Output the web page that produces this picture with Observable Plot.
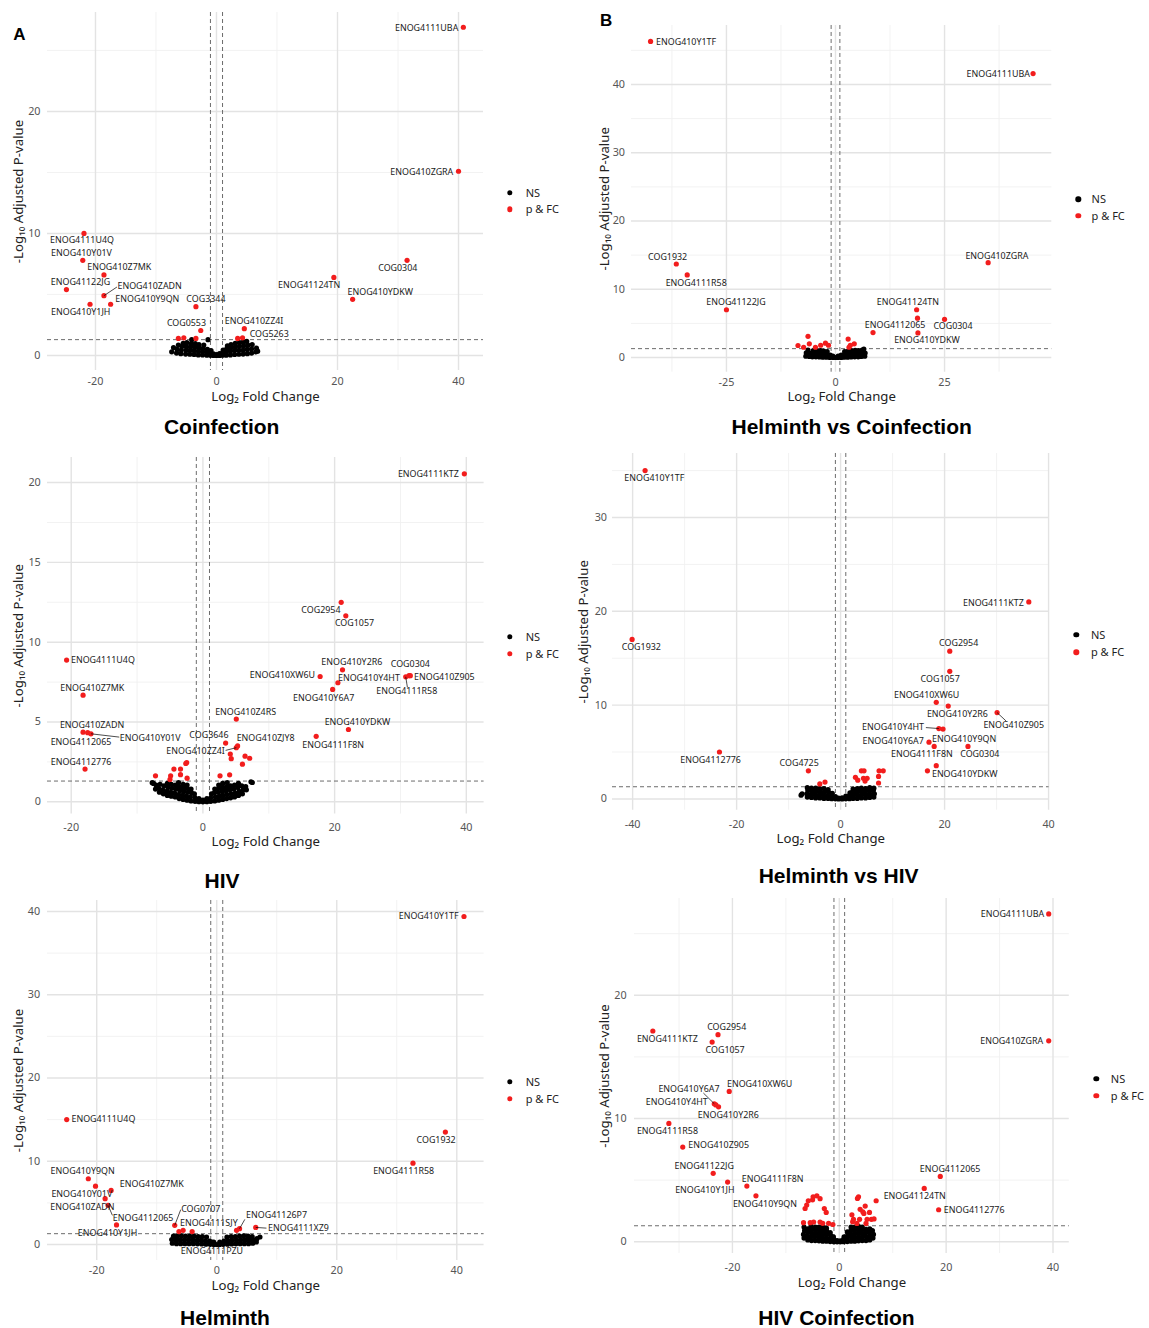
<!DOCTYPE html>
<html><head><meta charset="utf-8">
<script src="https://cdn.jsdelivr.net/npm/d3@7"></script>
<script src="https://cdn.jsdelivr.net/npm/@observablehq/plot@0.6"></script>
<style>
body{margin:0;background:#fff}
#root{position:relative;width:1149px;height:1328px;overflow:hidden;font-family:"Noto Sans",sans-serif}
#root svg{overflow:visible}
.ttl{position:absolute;font-family:"Liberation Sans",Arial,sans-serif;font-weight:bold;font-size:21px;line-height:1;white-space:nowrap;transform:translateX(-50%);color:#000}
.let{position:absolute;font-family:"Liberation Sans",Arial,sans-serif;font-weight:bold;font-size:17px;line-height:1;color:#000}
.ld{position:absolute;width:5.4px;height:5.4px;border-radius:50%;transform:translate(-50%,-50%)}
.lt{position:absolute;font-size:11px;line-height:1;color:#222;transform:translateY(-55%);white-space:nowrap}
</style></head>
<body><div id="root"></div>
<script>
// ---------------- DATA ----------------
const PTHRESH = 1.3;   // -log10(0.05)
const FC_LINES = [-1, 1];

// A: Coinfection
const coinf_names = ["ENOG4111UBA","ENOG410ZGRA","COG0304","ENOG41124TN","ENOG410YDKW","ENOG4111U4Q","ENOG410Y01V","ENOG410Z7MK","ENOG41122JG","ENOG410ZADN","ENOG410Y9QN","ENOG410Y1JH","COG3344","COG0553","ENOG410ZZ4I","COG5263"];
const coinf_x = [40.8,40.0,31.5,19.4,22.5,-21.9,-22.1,-18.6,-24.8,-18.6,-17.5,-20.9,-3.4,-2.6,4.6,4.3];
const coinf_y = [26.9,15.1,7.8,6.4,4.6,10.0,7.8,6.6,5.4,4.9,4.2,4.2,4.0,2.05,2.2,1.45];
const coinf_redX = [-6.3,-5.4,-3.4,3.5];
const coinf_redY = [1.4,1.45,1.4,1.4];
const coinf_ns = [[-7.4,0.3],[-7.1,0.65],[-6.6,0.2],[-6.5,0.5],[-6.3,0.85],[-5.9,0.15],[-5.8,0.45],[-5.7,0.75],[-5.5,1.0],[-5.1,0.12],[-5.0,0.42],[-5.0,0.72],[-4.9,1.05],[-4.4,0.1],[-4.4,0.4],[-4.3,0.7],[-4.2,0.95],[-4.1,1.3],[-3.7,0.08],[-3.7,0.38],[-3.6,0.68],[-3.5,0.98],[-3.0,0.05],[-3.0,0.35],[-2.9,0.62],[-2.9,0.9],[-2.3,0.04],[-2.3,0.3],[-2.2,0.58],[-2.1,0.85],[-1.6,0.02],[-1.6,0.25],[-1.5,0.5],[-1.4,1.3],[-1.0,0.01],[-1.0,0.2],[-0.9,0.4],[-0.5,0.0],[-0.5,0.14],[0,0],[0,0.07],[0.5,0.0],[0.5,0.15],[1.0,0.02],[1.0,0.22],[1.1,0.45],[1.6,0.03],[1.6,0.3],[1.7,0.55],[1.8,0.78],[2.3,0.05],[2.3,0.35],[2.4,0.65],[2.4,0.9],[3.0,0.08],[3.0,0.4],[3.1,0.7],[3.1,1.0],[3.7,0.1],[3.7,0.42],[3.8,0.75],[3.8,1.05],[4.4,0.12],[4.4,0.45],[4.5,0.8],[4.4,1.1],[5.1,0.15],[5.1,0.5],[5.2,0.85],[5.0,1.15],[5.8,0.2],[5.8,0.55],[5.9,0.9],[6.5,0.3],[6.6,0.6],[6.8,0.35]];
const coinf_xticks = [-20,0,20,40];
const coinf_yticks = [0,10,20];

// B: Helminth vs Coinfection
const hvc_names = ["ENOG410Y1TF","ENOG4111UBA","ENOG410ZGRA","COG1932","ENOG4111R58","ENOG41122JG","ENOG41124TN","ENOG4112065","COG0304","ENOG410YDKW"];
const hvc_x = [-42.4,45.3,35.0,-36.5,-34.0,-25.0,18.6,8.6,25.0,18.9];
const hvc_y = [46.3,41.6,13.9,13.7,12.1,7.0,7.0,3.66,5.6,3.6];
const hvc_redX = [18.8,-6.3,-8.6,-6.0,-7.3,-3.4,-2.3,-1.6,2.9,3.4,4.3,-4.6,3.1];
const hvc_redY = [5.76,3.1,1.76,2.0,1.5,1.8,2.1,1.8,2.7,1.8,2.0,1.5,1.5];
const hvc_ns = [[-6.8,0.2],[-6.7,0.7],[-6.3,1.1],[-6.0,0.15],[-5.9,0.6],[-5.3,0.1],[-5.2,0.55],[-5.1,1.0],[-4.5,0.1],[-4.4,0.55],[-4.3,1.05],[-3.7,0.08],[-3.6,0.5],[-3.5,1.0],[-2.9,0.05],[-2.8,0.45],[-2.7,0.95],[-2.1,0.04],[-2.0,0.4],[-1.9,0.85],[-1.3,0.02],[-1.2,0.35],[-0.6,0.0],[-0.6,0.2],[0,0],[0.6,0.0],[0.6,0.2],[1.3,0.02],[1.3,0.35],[2.0,0.04],[2.0,0.4],[2.1,0.85],[2.8,0.05],[2.8,0.45],[2.9,0.95],[3.6,0.08],[3.6,0.5],[3.7,1.0],[4.4,0.1],[4.4,0.55],[4.5,1.05],[5.2,0.1],[5.2,0.55],[5.3,1.0],[5.9,0.15],[6.0,0.6],[6.1,1.1],[6.7,0.2],[6.8,0.65],[6.5,1.25]];
const hvc_xticks = [-25,0,25];
const hvc_yticks = [0,10,20,30,40];

// HIV
const hiv_names = ["ENOG4111KTZ","COG2954","COG1057","ENOG4111U4Q","ENOG410Z7MK","ENOG410ZADN","ENOG4112065","ENOG410Y01V","ENOG4112776","ENOG410Z4RS","COG3646","ENOG410ZJY8","ENOG410ZZ4I","ENOG410XW6U","ENOG410Y2R6","ENOG410Y4HT","ENOG410Y6A7","COG0304","ENOG410Z905","ENOG4111R58","ENOG410YDKW","ENOG4111F8N"];
const hiv_x = [39.7,21.0,21.7,-20.7,-18.2,-18.2,-17.5,-17.0,-17.9,5.07,3.45,5.27,5.07,17.8,21.2,20.5,19.7,31.3,31.5,30.8,22.1,17.2];
const hiv_y = [20.55,12.5,11.65,8.88,6.68,4.36,4.33,4.26,2.05,5.18,3.68,3.5,3.39,7.85,8.27,7.46,7.04,7.9,7.9,7.83,4.53,4.1];
const hiv_redX = [4.16,4.3,6.4,7.1,6.0,-2.46,-2.6,-4.4,-3.4,-3.4,-7.2,-4.9,-5.0,-2.4,2.6,4.06];
const hiv_redY = [2.99,2.7,2.86,2.73,2.36,2.46,2.4,2.05,2.05,1.7,1.63,1.63,1.4,1.48,1.63,1.69];
const hiv_ns = [[-7.7,1.2],[-7.5,1.15],[-7.2,0.8],[-7.1,1.05],[-6.6,0.6],[-6.7,0.85],[-6.5,1.1],[-6.0,0.5],[-6.1,0.75],[-5.9,1.0],[-5.4,0.4],[-5.5,0.65],[-5.3,0.9],[-5.4,1.15],[-4.8,0.35],[-4.9,0.6],[-4.7,0.85],[-4.8,1.1],[-4.2,0.3],[-4.3,0.55],[-4.1,0.8],[-4.2,1.05],[-3.6,0.2],[-3.7,0.45],[-3.5,0.7],[-3.6,0.95],[-3.7,1.2],[-3.0,0.15],[-3.1,0.4],[-2.9,0.65],[-3.0,0.9],[-3.0,1.1],[-2.4,0.1],[-2.5,0.35],[-2.3,0.6],[-2.4,0.85],[-2.4,1.05],[-1.8,0.05],[-1.9,0.3],[-1.7,0.55],[-1.8,0.8],[-1.2,0.03],[-1.2,0.25],[-1.3,0.5],[-0.6,0.01],[-0.6,0.2],[0,0],[0,0.1],[0.6,0.01],[0.6,0.2],[1.2,0.03],[1.2,0.25],[1.3,0.5],[1.8,0.05],[1.9,0.3],[1.7,0.55],[1.8,0.8],[2.4,0.1],[2.5,0.35],[2.3,0.6],[2.4,0.85],[2.4,1.05],[3.0,0.15],[3.1,0.4],[2.9,0.65],[3.0,0.9],[3.0,1.15],[3.6,0.2],[3.7,0.45],[3.5,0.7],[3.6,0.95],[3.7,1.2],[4.2,0.25],[4.3,0.5],[4.1,0.75],[4.2,1.0],[4.8,0.3],[4.9,0.55],[4.7,0.8],[4.8,1.05],[5.4,0.4],[5.5,0.65],[5.3,0.9],[5.4,1.15],[6.0,0.5],[6.1,0.75],[5.9,1.0],[6.6,0.75],[6.5,0.95],[7.3,1.25],[7.5,1.21]];
const hiv_xticks = [-20,0,20,40];
const hiv_yticks = [0,5,10,15,20];

// Helminth vs HIV
const hvh_names = ["ENOG410Y1TF","COG1932","ENOG4112776","COG4725","ENOG4111KTZ","COG2954","COG1057","ENOG410XW6U","ENOG410Y2R6","ENOG410Z905","ENOG410Y4HT","ENOG410Y6A7","ENOG410Y9QN","ENOG4111F8N","COG0304","ENOG410YDKW"];
const hvh_x = [-37.6,-40.1,-23.3,-6.2,36.2,21.0,21.0,18.4,20.7,30.1,18.9,17.0,18.0,18.4,24.5,16.7];
const hvh_y = [35.0,17.0,5.0,3.0,21.0,15.75,13.6,10.3,9.9,9.2,7.5,6.05,5.6,3.55,5.6,3.0];
const hvh_redX = [19.7,4.0,4.5,7.4,8.2,2.85,7.3,3.3,4.4,5.1,4.7,7.3,-3.0,-4.0];
const hvh_redY = [7.45,3.0,3.0,3.0,3.0,2.3,2.4,2.0,2.2,2.2,1.9,1.7,1.8,1.6];
const hvh_ns = [[-7.6,0.4],[-7.4,0.55],[-6.4,0.2],[-6.5,0.55],[-6.3,0.9],[-6.4,1.2],[-5.6,0.15],[-5.7,0.5],[-5.5,0.85],[-5.6,1.15],[-4.8,0.1],[-4.9,0.45],[-4.7,0.8],[-4.8,1.15],[-4.0,0.1],[-4.1,0.4],[-3.9,0.75],[-4.0,1.1],[-3.2,0.05],[-3.3,0.4],[-3.1,0.75],[-3.2,1.1],[-2.4,0.05],[-2.5,0.35],[-2.3,0.7],[-2.4,1.0],[-1.7,0.02],[-1.7,0.3],[-1.6,0.6],[-1.0,0.01],[-1.0,0.25],[-0.4,0],[-0.4,0.1],[0.3,0],[0.3,0.12],[1.0,0.01],[1.0,0.3],[1.7,0.02],[1.7,0.35],[1.8,0.65],[2.4,0.05],[2.5,0.4],[2.3,0.75],[2.4,1.05],[3.2,0.05],[3.3,0.4],[3.1,0.75],[3.2,1.1],[4.0,0.1],[4.1,0.45],[3.9,0.8],[4.0,1.15],[4.8,0.1],[4.9,0.45],[4.7,0.8],[4.8,1.1],[5.6,0.15],[5.7,0.5],[5.5,0.85],[5.6,1.2],[6.4,0.2],[6.5,0.55],[6.3,0.9],[6.4,1.15]];
const hvh_xticks = [-40,-20,0,20,40];
const hvh_yticks = [0,10,20,30];

// Helminth
const helm_names = ["ENOG410Y1TF","ENOG4111U4Q","COG1932","ENOG4111R58","ENOG410Y9QN","ENOG410Y01V","ENOG410Z7MK","ENOG410ZADN","ENOG4112065","ENOG410Y1JH","COG0707","ENOG4111SJY","ENOG41126P7","ENOG4111XZ9"];
const helm_x = [41.2,-25.0,38.1,32.7,-21.4,-20.2,-17.6,-18.6,-18.1,-16.7,-7.0,-5.6,3.8,6.5];
const helm_y = [39.4,15.0,13.5,9.77,7.9,7.0,6.5,5.5,4.7,2.35,2.3,1.7,1.9,2.05];
const helm_redX = [-6.3,-4.1,3.3];
const helm_redY = [1.55,1.55,1.7];
const helm_nsNames = ["ENOG4111PZU"];
const helm_nsX = [-0.8];
const helm_nsY = [0.3];
const helm_ns = [[-7.4,0.15],[-7.5,0.6],[-7.2,1.0],[-6.7,0.1],[-6.8,0.55],[-6.6,1.0],[-6.0,0.1],[-6.1,0.55],[-5.9,1.05],[-5.3,0.1],[-5.4,0.55],[-5.2,1.0],[-4.6,0.1],[-4.7,0.55],[-4.5,1.0],[-3.9,0.1],[-4.0,0.55],[-3.8,1.0],[-3.2,0.08],[-3.3,0.5],[-3.1,0.95],[-2.5,0.06],[-2.6,0.5],[-2.4,0.95],[-1.8,0.04],[-1.9,0.45],[-1.7,0.9],[-1.1,0.02],[-1.2,0.4],[-0.5,0.0],[-0.5,0.3],[0,0],[0.5,0.0],[0.5,0.3],[1.1,0.02],[1.2,0.4],[1.8,0.04],[1.9,0.45],[1.7,0.9],[2.5,0.06],[2.6,0.5],[2.4,0.95],[3.2,0.08],[3.3,0.5],[3.1,0.95],[3.9,0.1],[4.0,0.55],[3.8,1.0],[4.6,0.1],[4.7,0.55],[4.5,1.05],[5.3,0.1],[5.4,0.55],[5.2,1.0],[6.0,0.15],[6.1,0.55],[5.9,0.95],[6.6,0.3],[6.7,0.7],[7.2,0.9]];
const helm_xticks = [-20,0,20,40];
const helm_yticks = [0,10,20,30,40];

// HIV Coinfection
const hivco_names = ["ENOG4111UBA","ENOG410ZGRA","ENOG4111KTZ","COG2954","COG1057","ENOG410XW6U","ENOG410Y6A7","ENOG410Y4HT","ENOG410Y2R6","ENOG4111R58","ENOG410Z905","ENOG41122JG","ENOG410Y1JH","ENOG4111F8N","ENOG410Y9QN","ENOG4112065","ENOG41124TN","ENOG4112776"];
const hivco_x = [39.2,39.2,-34.9,-22.7,-23.8,-20.6,-23.4,-23.1,-22.6,-31.9,-29.3,-23.6,-20.9,-17.3,-15.6,18.9,15.9,18.6];
const hivco_y = [26.6,16.3,17.1,16.8,16.2,12.2,11.2,11.1,10.95,9.6,7.68,5.55,4.84,4.52,3.73,5.3,4.33,2.6];
const hivco_redX = [-6.4,-6.1,-5.8,-4.9,-4.2,-3.6,-2.8,-2.45,-6.7,-5.45,-4.8,-3.6,-3.1,-2.0,-1.2,-5.0,2.36,3.4,3.6,4.85,5.65,6.9,3.9,4.6,2.66,3.8,5.2,6.0,5.0,3.3,6.5,2.5,4.4];
const hivco_redY = [2.7,2.98,3.33,3.65,3.73,3.5,2.7,2.38,1.55,1.55,1.6,1.6,1.5,1.5,1.4,3.4,2.19,3.52,3.65,2.9,2.38,3.33,2.63,2.3,1.82,1.82,1.82,1.82,1.49,1.49,1.85,1.62,2.43];
const hivco_ns = [[-6.6,0.3],[-6.7,0.6],[-6.5,0.9],[-6.6,1.2],[-5.9,0.15],[-6.0,0.45],[-5.8,0.75],[-5.9,1.05],[-5.2,0.1],[-5.3,0.4],[-5.1,0.7],[-5.2,1.0],[-5.3,1.25],[-4.5,0.1],[-4.6,0.4],[-4.4,0.7],[-4.5,1.0],[-4.5,1.2],[-3.8,0.08],[-3.9,0.38],[-3.7,0.68],[-3.8,0.98],[-3.8,1.2],[-3.1,0.05],[-3.2,0.35],[-3.0,0.65],[-3.1,0.95],[-3.1,1.2],[-2.4,0.05],[-2.5,0.3],[-2.3,0.6],[-2.4,0.9],[-2.4,1.1],[-1.7,0.02],[-1.7,0.25],[-1.6,0.5],[-1.7,0.75],[-1.0,0.01],[-1.0,0.2],[-1.1,0.4],[-0.4,0],[-0.4,0.1],[0.2,0],[0.2,0.08],[0.8,0.01],[0.8,0.2],[0.9,0.4],[1.5,0.02],[1.5,0.3],[1.6,0.55],[1.5,0.8],[2.2,0.05],[2.3,0.35],[2.1,0.65],[2.2,0.95],[2.2,1.2],[2.9,0.05],[3.0,0.35],[2.8,0.65],[2.9,0.95],[2.9,1.2],[3.6,0.08],[3.7,0.38],[3.5,0.68],[3.6,0.98],[3.6,1.25],[4.3,0.1],[4.4,0.4],[4.2,0.7],[4.3,1.0],[4.3,1.2],[5.0,0.1],[5.1,0.4],[4.9,0.7],[5.0,1.0],[5.7,0.15],[5.8,0.45],[5.6,0.75],[5.7,1.05],[6.3,0.3],[6.4,0.6],[6.2,0.9]];
const hivco_xticks = [-20,0,20,40];
const hivco_yticks = [0,10,20];

const LEGEND_LABELS = ["NS", "p & FC"];
const XLAB = "Log\u2082 Fold Change";
const YLAB = "-Log\u2081\u2080 Adjusted P-value";

// ---------------- LAYOUT (positions & styles) ----------------
const RED = "#f21d1d";
const panels = [
 {names:coinf_names,xs:coinf_x,ys:coinf_y,redX:coinf_redX,redY:coinf_redY,ns:coinf_ns,xt:coinf_xticks,yt:coinf_yticks,
  box:{l:47,r:483,t:12,b:370},xd:[-27.93,44.13],yd:[-1.23,28.11],gx:[[-20,0,20,40],[-10,10,30]],gy:[[0,10,20],[5,15,25]],
  xtDy:11.2,ytDx:-7,xlDy:26,ylDx:-28.7,
  off:{"ENOG4111UBA":[-36.7,0.7],"ENOG410ZGRA":[-36.7,1],"COG0304":[-9.3,7.7],"ENOG41124TN":[-24.7,7.7],"ENOG410YDKW":[27.7,-7],"ENOG4111U4Q":[-2,6.7],"ENOG410Y01V":[-1.3,-7],"ENOG410Z7MK":[15.3,-7.7],"ENOG41122JG":[14,-7.7],"ENOG410ZADN":[45.7,-9.7],"ENOG410Y9QN":[36.7,-5],"ENOG410Y1JH":[-9.3,8],"COG3344":[10,-7.3],"COG0553":[-14.3,-7.7],"ENOG410ZZ4I":[9.7,-7.3],"COG5263":[26.7,-3.3]},
  seg:{"ENOG410ZADN":[13,-8.7]},
  leg:{dx:510,tx:525.7,y:[192.7,209.3]},title:{t:"Coinfection",x:221.7,base:433.3}},
 {names:hvc_names,xs:hvc_x,ys:hvc_y,redX:hvc_redX,redY:hvc_redY,ns:hvc_ns,xt:hvc_xticks,yt:hvc_yticks,
  box:{l:630.7,r:1051,t:25,b:371.7},xd:[-46.77,49.59],yd:[-2.15,48.64],gx:[[-25,0,25],[-37.5,-12.5,12.5,37.5]],gy:[[0,10,20,30,40],[5,15,25,35,45]],
  xtDy:10.3,ytDx:-6.5,xlDy:25,ylDx:-27.1,
  off:{"ENOG410Y1TF":[35.5,1],"ENOG4111UBA":[-34.8,0.3],"ENOG410ZGRA":[8.7,-6.7],"COG1932":[-8.7,-7],"ENOG4111R58":[9,8],"ENOG41122JG":[9.5,-7.3],"ENOG41124TN":[-8.7,-7.3],"ENOG4112065":[22.1,-7],"COG0304":[8.4,7.3],"ENOG410YDKW":[9,7.7]},
  seg:{},
  leg:{dx:1078.2,tx:1091.6,y:[199.3,216]},title:{t:"Helminth vs Coinfection",x:851.7,base:433.3}},
 {names:hiv_names,xs:hiv_x,ys:hiv_y,redX:hiv_redX,redY:hiv_redY,ns:hiv_ns,xt:hiv_xticks,yt:hiv_yticks,
  box:{l:46.7,r:483.3,t:456.7,b:813.3},xd:[-23.6,42.7],yd:[-0.77,21.57],gx:[[-20,0,20,40],[-10,10,30]],gy:[[0,5,10,15,20],[2.5,7.5,12.5,17.5]],
  xtDy:13.3,ytDx:-6.7,xlDy:28,ylDx:-28.4,
  off:{"ENOG4111KTZ":[-36,0],"COG2954":[-20.3,8],"COG1057":[8.7,7.7],"ENOG4111U4Q":[36.3,-0.3],"ENOG410Z7MK":[9.3,-7.3],"ENOG410ZADN":[9,-7.3],"ENOG4112065":[-6.7,9.3],"ENOG410Y01V":[59.3,4],"ENOG4112776":[-4,-7.3],"ENOG410Z4RS":[9.3,-7.3],"COG3646":[-16.7,-7.7],"ENOG410ZJY8":[28,-7.3],"ENOG410ZZ4I":[-40.7,3.3],"ENOG410XW6U":[-37.7,-1],"ENOG410Y2R6":[9.3,-7.7],"ENOG410Y4HT":[31,-5],"ENOG410Y6A7":[-9,8.3],"COG0304":[1.3,-11.7],"ENOG410Z905":[34,1.7],"ENOG4111R58":[1,14],"ENOG410YDKW":[9,-7.7],"ENOG4111F8N":[17,8.3]},
  seg:{"ENOG410Y01V":[28.3,3.3],"ENOG410ZZ4I":[-10.7,2.7],"ENOG4111R58":[1.7,10.7]},
  leg:{dx:510,tx:525.7,y:[637,654]},title:{t:"HIV",x:222,base:888}},
 {names:hvh_names,xs:hvh_x,ys:hvh_y,redX:hvh_redX,redY:hvh_redY,ns:hvh_ns,xt:hvh_xticks,yt:hvh_yticks,
  box:{l:612.4,r:1049,t:453.3,b:810},xd:[-43.87,40.1],yd:[-1.2,36.82],gx:[[-40,-20,0,20,40],[-30,-10,10,30]],gy:[[0,10,20,30],[5,15,25,35]],
  xtDy:14,ytDx:-5.5,xlDy:29,ylDx:-28.4,
  off:{"ENOG410Y1TF":[9.2,7.7],"COG1932":[9.2,8],"ENOG4112776":[-8.9,8.3],"COG4725":[-9.2,-7.7],"ENOG4111KTZ":[-35.4,1.3],"COG2954":[8.9,-7.7],"COG1057":[-9.6,7.7],"ENOG410XW6U":[-9.6,-7.3],"ENOG410Y2R6":[9.2,8.3],"ENOG410Z905":[16.6,13],"ENOG410Y4HT":[-45.8,-1],"ENOG410Y6A7":[-35.8,-1],"ENOG410Y9QN":[29.9,-7.3],"ENOG4111F8N":[-14.4,-11.3],"COG0304":[11.8,8],"ENOG410YDKW":[37.3,3]},
  seg:{"ENOG410Z905":[8.9,8.3],"ENOG410Y4HT":[-13,-1]},
  leg:{dx:1076.3,tx:1091,y:[635,652.3]},title:{t:"Helminth vs HIV",x:838.6,base:882.7}},
 {names:helm_names,xs:helm_x,ys:helm_y,redX:helm_redX,redY:helm_redY,ns:helm_ns,nsNames:helm_nsNames,nsX:helm_nsX,nsY:helm_nsY,xt:helm_xticks,yt:helm_yticks,
  box:{l:46.7,r:483.3,t:900,b:1260},xd:[-28.2,44.55],yd:[-1.92,41.32],gx:[[-20,0,20,40],[-10,10,30]],gy:[[0,10,20,30,40],[5,15,25,35]],
  xtDy:10,ytDx:-7.4,xlDy:24.8,ylDx:-28.4,
  off:{"ENOG410Y1TF":[-35.3,0],"ENOG4111U4Q":[36.7,-0.7],"COG1932":[-9.3,8],"ENOG4111R58":[-9.3,8],"ENOG410Y9QN":[-5.7,-7.3],"ENOG410Y01V":[-13.7,7.7],"ENOG410Z7MK":[40.7,-6],"ENOG410ZADN":[-22.7,8.3],"ENOG4112065":[35,12.3],"ENOG410Y1JH":[-9,8],"COG0707":[26,-16],"ENOG4111SJY":[25.7,-7.7],"ENOG41126P7":[37,-13.3],"ENOG4111XZ9":[42.7,1],"ENOG4111PZU":[0,9.3]},
  seg:{"ENOG4112065":[4.3,10],"COG0707":[6,-15.7],"ENOG41126P7":[5.3,-9.3],"ENOG4111XZ9":[10.7,0.7]},
  leg:{dx:510,tx:525.7,y:[1081.5,1098.5]},title:{t:"Helminth",x:225,base:1325}},
 {names:hivco_names,xs:hivco_x,ys:hivco_y,redX:hivco_redX,redY:hivco_redY,ns:hivco_ns,xt:hivco_xticks,yt:hivco_yticks,
  box:{l:634.3,r:1069.1,t:898.3,b:1253.3},xd:[-38.33,43.05],yd:[-0.95,27.85],gx:[[-20,0,20,40],[-30,-10,10,30]],gy:[[0,10,20],[5,15,25]],
  xtDy:14,ytDx:-7.9,xlDy:29,ylDx:-29.7,
  off:{"ENOG4111UBA":[-36.3,0],"ENOG410ZGRA":[-37,0.3],"ENOG4111KTZ":[14.5,8.3],"COG2954":[8.7,-7.3],"COG1057":[13,8],"ENOG410XW6U":[30.4,-7.7],"ENOG410Y6A7":[-25.3,-15],"ENOG410Y4HT":[-39.1,-2.7],"ENOG410Y2R6":[9.8,8],"ENOG4111R58":[-1.4,8],"ENOG410Z905":[35.9,-2],"ENOG41122JG":[-9,-7.7],"ENOG410Y1JH":[-22.8,8],"ENOG4111F8N":[25.8,-7.3],"ENOG410Y9QN":[9,8],"ENOG4112065":[9.8,-7.3],"ENOG41124TN":[-9.5,7.7],"ENOG4112776":[35.5,0]},
  seg:{"ENOG410Y6A7":[-10.9,-10.7]},
  leg:{dx:1096.3,tx:1110.8,y:[1079,1095.7]},title:{t:"HIV Coinfection",x:836.5,base:1325}}
];
const letters = [{t:"A",x:13.3,base:40.7},{t:"B",x:599.9,base:26.7}];

const root = document.getElementById("root");

function drawPanel(p){
  const {box,xd,yd} = p;
  const mL=60,mR=15,mT=15,mB=45;
  const W = box.r-box.l+mL+mR, H = box.b-box.t+mT+mB;
  const kx = (box.r-box.l)/(xd[1]-xd[0]), ky = (box.b-box.t)/(yd[1]-yd[0]);
  const sig = p.names.map((n,i)=>({name:n,x:p.xs[i],y:p.ys[i]}));
  const nsLab = (p.nsNames||[]).map((n,i)=>({name:n,x:p.nsX[i],y:p.nsY[i]}));
  const labs = sig.concat(nsLab).map(d=>{const o=p.off[d.name]||[0,0];return {...d,lx:d.x+o[0]/kx,ly:d.y-o[1]/ky};});
  const segs = labs.filter(d=>p.seg[d.name]).map(d=>{const s=p.seg[d.name];return {x1:d.x,y1:d.y,x2:d.x+s[0]/kx,y2:d.y-s[1]/ky};});
  const reds = sig.concat(p.redX.map((x,i)=>({x,y:p.redY[i]})));
  const blacks = p.ns.map(([x,y])=>({x,y})).concat(nsLab);
  const svg = Plot.plot({
    width:W,height:H,marginLeft:mL,marginRight:mR,marginTop:mT,marginBottom:mB,
    x:{domain:xd,axis:null},y:{domain:yd,axis:null},
    style:{fontFamily:'"Noto Sans",sans-serif',background:"transparent",overflow:"visible"},
    marks:[
      Plot.ruleX(p.gx[1],{stroke:"#f0f0f0",strokeWidth:0.9}),
      Plot.ruleY(p.gy[1],{stroke:"#f0f0f0",strokeWidth:0.9}),
      Plot.ruleX(p.gx[0],{stroke:"#e3e3e3",strokeWidth:1.4}),
      Plot.ruleY(p.gy[0],{stroke:"#e3e3e3",strokeWidth:1.4}),
      Plot.ruleX(FC_LINES,{stroke:"#6b6b6b",strokeWidth:1,strokeDasharray:"4,3"}),
      Plot.ruleY([PTHRESH],{stroke:"#6b6b6b",strokeWidth:1,strokeDasharray:"4,3"}),
      Plot.dot(blacks,{x:"x",y:"y",r:2.6,fill:"#000"}),
      Plot.dot(reds,{x:"x",y:"y",r:2.6,fill:RED}),
      Plot.link(segs,{x1:"x1",y1:"y1",x2:"x2",y2:"y2",stroke:"#000",strokeWidth:0.7}),
      Plot.text(labs,{x:"lx",y:"ly",text:"name",fontSize:8.9,fill:"#1a1a1a"}),
      Plot.text(p.xt,{x:d=>d,frameAnchor:"bottom",lineAnchor:"middle",textAnchor:"middle",dy:p.xtDy,text:d=>String(d),fontSize:10.8,fill:"#555"}),
      Plot.text(p.yt,{y:d=>d,frameAnchor:"left",lineAnchor:"middle",dx:p.ytDx,textAnchor:"end",text:d=>String(d),fontSize:10.8,fill:"#555"}),
      Plot.text([XLAB],{frameAnchor:"bottom",lineAnchor:"middle",textAnchor:"middle",dy:p.xlDy,text:d=>d,fontSize:13.2,fill:"#222"}),
      Plot.text([YLAB],{frameAnchor:"left",lineAnchor:"middle",textAnchor:"middle",dx:p.ylDx,rotate:-90,text:d=>d,fontSize:13.2,fill:"#222"})
    ]
  });
  svg.style.position="absolute";
  svg.style.left=(box.l-mL)+"px";
  svg.style.top=(box.t-mT)+"px";
  root.appendChild(svg);
  LEGEND_LABELS.forEach((lab,i)=>{
    const d=document.createElement("div");d.className="ld";
    d.style.left=p.leg.dx+"px";d.style.top=p.leg.y[i]+"px";d.style.background=i?RED:"#000";root.appendChild(d);
    const t=document.createElement("div");t.className="lt";t.textContent=lab;
    t.style.left=p.leg.tx+"px";t.style.top=p.leg.y[i]+"px";root.appendChild(t);
  });
  const tt=document.createElement("div");tt.className="ttl";tt.textContent=p.title.t;
  tt.style.left=p.title.x+"px";tt.style.top=(p.title.base-17.8)+"px";root.appendChild(tt);
}
panels.forEach(drawPanel);
letters.forEach(l=>{const e=document.createElement("div");e.className="let";e.textContent=l.t;
  e.style.left=l.x+"px";e.style.top=(l.base-14.4)+"px";root.appendChild(e);});
</script></body></html>
